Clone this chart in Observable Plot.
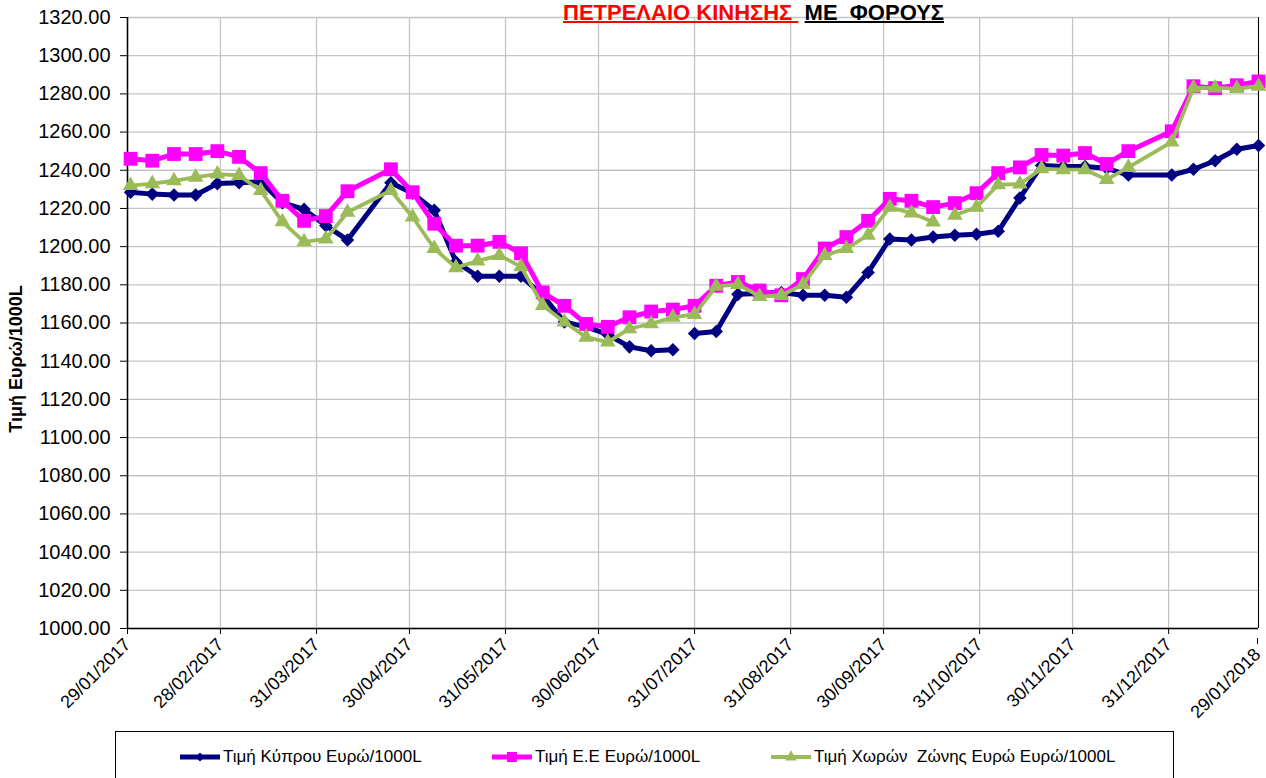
<!DOCTYPE html>
<html><head><meta charset="utf-8">
<script src="https://cdn.jsdelivr.net/npm/d3@7"></script>
<script src="https://cdn.jsdelivr.net/npm/@observablehq/plot@0.6"></script>
<style>
body{margin:0;background:#fff;font-family:Arial,"Liberation Sans",sans-serif;overflow:hidden}
#wrap{position:relative;width:1266px;height:778px;overflow:hidden;background:#fff}
#chart{position:absolute;left:0;top:0}
#title{position:absolute;left:563px;top:2px;font-size:22px;line-height:22px;font-weight:bold;white-space:pre}
#title .r{color:#ff0000;text-decoration:underline;text-decoration-color:#ff0000;text-decoration-thickness:2px}
#title .b{color:#000;text-decoration:underline;text-decoration-color:#000;text-decoration-thickness:2px}
#legend{position:absolute;left:115px;top:731px;width:1059px;height:80px;border:1px solid #000;box-sizing:border-box;background:#fff}
.item{position:absolute;top:15px;display:flex;align-items:center;font-size:17px;color:#000;white-space:pre}
.item svg{display:block;margin-right:2px}
</style></head>
<body><div id="wrap">
<div id="chart"></div>
<div id="title"><span class="r">ΠΕΤΡΕΛΑΙΟ ΚΙΝΗΣΗΣ </span> <span class="b">ΜΕ  ΦΟΡΟΥΣ</span></div>
<div id="legend"></div>
</div>
<script>
// ---- data ----
const dates = ["2017-01-30","2017-02-06","2017-02-13","2017-02-20","2017-02-27","2017-03-06","2017-03-13","2017-03-20","2017-03-27","2017-04-03","2017-04-10",
"2017-04-24","2017-05-01","2017-05-08","2017-05-15","2017-05-22","2017-05-29","2017-06-05","2017-06-12","2017-06-19","2017-06-26",
"2017-07-03","2017-07-10","2017-07-17","2017-07-24","2017-07-31","2017-08-07","2017-08-14","2017-08-21","2017-08-28",
"2017-09-04","2017-09-11","2017-09-18","2017-09-25","2017-10-02","2017-10-09","2017-10-16","2017-10-23","2017-10-30",
"2017-11-06","2017-11-13","2017-11-20","2017-11-27","2017-12-04","2017-12-11","2017-12-18",
"2018-01-01","2018-01-08","2018-01-15","2018-01-22","2018-01-29"];
const cyprus = [1228.5,1227.5,1227,1227,1233,1233.5,1234,1223,1219.5,1211,1203.5,
1233.5,1228,1219,1192,1184.5,1184.5,1184.5,1174.5,1160.5,1158,
1154,1147.5,1145.5,1146,1154.5,1155.5,1175,1175.5,1176,
1174.5,1174.5,1173.5,1186.5,1204,1203.5,1205,1206,1206.5,
1208,1225.5,1242.5,1242,1242,1241,1237.5,
1237.5,1240.5,1245,1251,1253];
const eu = [1246,1245,1248.5,1248.5,1250,1247,1238.5,1224,1213.5,1216,1229,
1240.5,1228.5,1212,1200.5,1200.5,1202.5,1196.5,1176,1169,1159.5,
1158,1163,1166,1167,1169,1179.5,1181.5,1177,1174.5,
1183,1199,1205,1213.5,1225,1224,1220.7,1222.8,1228,
1238.5,1241.5,1248,1247.7,1249,1243.3,1250,
1260.4,1284,1283,1284.5,1286.5];
const zone = [1232,1233,1234.5,1236.4,1238,1237.3,1229.4,1213,1202.5,1204,1218,
1229.4,1215.5,1199,1189,1192.5,1195.4,1189.5,1169.2,1160.5,1152.6,
1150,1157,1159.6,1163,1164.5,1179.2,1180.2,1173.9,1174.4,
1180.2,1195.4,1199,1206,1220.6,1217.6,1212.9,1216.4,1220.6,
1232.4,1232.8,1240.8,1240.3,1240.3,1235.1,1241.5,
1254.8,1283.1,1283.1,1282.8,1284];
const cyprusBreakAfter = ["2017-07-24"];
const zoneBreakAfter = ["2017-10-16"];
const xTickDates = ["2017-01-29","2017-02-28","2017-03-31","2017-04-30","2017-05-31","2017-06-30","2017-07-31","2017-08-31","2017-09-30","2017-10-31","2017-11-30","2017-12-31","2018-01-29"];
const yTicks = d3.range(1000, 1321, 20);
const seriesNames = ["Τιμή Κύπρου Ευρώ/1000L","Τιμή Ε.Ε Ευρώ/1000L","Τιμή Χωρών  Ζώνης Ευρώ Ευρώ/1000L"];
const colors = ["#000080","#ff00ff","#9bbb59"];

// ---- build ----
const parse = s => new Date(s + "T00:00:00Z");
function rows(vals, breaks) {
  let seg = 0;
  const b = new Set(breaks);
  return dates.map((d, i) => {
    const r = {date: parse(d), value: vals[i], seg};
    if (b.has(d)) seg++;
    return r;
  });
}
const cy = rows(cyprus, cyprusBreakAfter);
const ee = rows(eu, []);
const zn = rows(zone, zoneBreakAfter);
const xt = xTickDates.map(parse);
const fmt = d3.utcFormat("%d/%m/%Y");

const plot = Plot.plot({
  width: 1266, height: 730,
  marginLeft: 127, marginRight: 8, marginTop: 17, marginBottom: 102,
  style: {fontFamily: "Arial, 'Liberation Sans', sans-serif", background: "#fff", overflow: "visible"},
  x: {type: "utc", domain: [xt[0], xt[xt.length-1]]},
  y: {domain: [1000, 1320]},
  marks: [
    Plot.gridY(yTicks, {stroke: "#c4c4c4", strokeOpacity: 1, strokeWidth: 1.3}),
    Plot.gridX(xt, {stroke: "#c4c4c4", strokeOpacity: 1, strokeWidth: 1.3}),
    Plot.axisY({ticks: yTicks, tickFormat: d3.format(".2f"), tickSize: 7, tickPadding: 10, fontSize: 20, label: null, stroke: "#000", color: "#000"}),
    Plot.axisX({ticks: xt.slice(0, -1), tickFormat: fmt, tickRotate: -45, tickSize: 6, tickPadding: 7, fontSize: 18, label: null, color: "#000"}),
    Plot.axisX({ticks: xt.slice(-1), tickFormat: fmt, tickRotate: -45, tickSize: 6, tickPadding: 7, fontSize: 18, label: null, color: "#000", dx: -1, dy: 10, tick: false}),
    Plot.tickX(xt.slice(-1), {x: d => d, frameAnchor: "bottom", stroke: "#000"}),
    Plot.ruleX([xt[0]], {stroke: "#000", strokeWidth: 1.5}),
    Plot.ruleY([1000], {stroke: "#000", strokeWidth: 1.5}),
    Plot.text(["Τιμή Ευρώ/1000L"], {frameAnchor: "left", dx: -111, dy: 36, rotate: -90, textAnchor: "middle", fontWeight: "bold", fontSize: 18, fill: "#000"}),
    Plot.line(cy, {x: "date", y: "value", z: "seg", stroke: colors[0], strokeWidth: 5}),
    Plot.dot(cy, {x: "date", y: "value", symbol: "square", rotate: 45, r: 5.4, fill: colors[0]}),
    Plot.line(ee, {x: "date", y: "value", stroke: colors[1], strokeWidth: 5}),
    Plot.dot(ee, {x: "date", y: "value", symbol: "square", r: 7.8, fill: colors[1]}),
    Plot.line(zn, {x: "date", y: "value", z: "seg", stroke: colors[2], strokeWidth: 3.8}),
    Plot.dot(zn, {x: "date", y: "value", symbol: "triangle", r: 5.8, fill: colors[2]})
  ]
});
document.getElementById("chart").appendChild(plot);

// ---- legend ----
const legend = document.getElementById("legend");
const lefts = [63, 375, 654];
seriesNames.forEach((name, i) => {
  const it = document.createElement("div");
  it.className = "item";
  it.style.left = lefts[i] + "px";
  const s = d3.create("svg").attr("width", 42).attr("height", 16);
  s.append("line").attr("x1", 1).attr("x2", 41).attr("y1", 8).attr("y2", 8).attr("stroke", colors[i]).attr("stroke-width", i === 2 ? 3.8 : 5);
  const sym = i === 0 ? d3.symbol(d3.symbolSquare, 40) : i === 1 ? d3.symbol(d3.symbolSquare, 100) : d3.symbol(d3.symbolTriangle, 60);
  s.append("path").attr("d", sym()).attr("transform", `translate(21,8)${i === 0 ? " rotate(45)" : ""}`).attr("fill", colors[i]);
  it.appendChild(s.node());
  const t = document.createElement("span");
  t.textContent = name;
  it.appendChild(t);
  legend.appendChild(it);
});
</script>
</body></html>
